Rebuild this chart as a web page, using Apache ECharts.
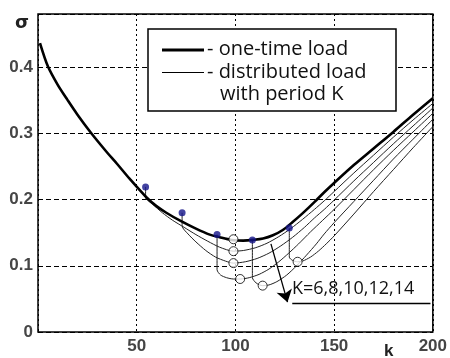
<!DOCTYPE html>
<html>
<head>
<meta charset="utf-8">
<script src="https://cdn.jsdelivr.net/npm/echarts@6/dist/echarts.min.js"></script>
<style>
  html, body { margin: 0; padding: 0; background: #fff; }
  #main { width: 450px; height: 358px; }
</style>
</head>
<body>
<div id="main"></div>
<script>
// axis ticks
const kTicks = [0, 50, 100, 150, 200];
const sigmaTicks = [0, 0.1, 0.2, 0.3, 0.4];

// one-time load (thick curve), [k, sigma]
const oneTime = [[1,0.436],[5,0.401],[10,0.373],[15,0.350],[20,0.328],[27,0.300],[35,0.271],[40,0.254],
  [46.5,0.231],[55,0.203],[60,0.190],[65,0.180],[72,0.168],[80,0.156],[87,0.147],[92,0.143],[98,0.139],
  [104,0.138],[109,0.139],[114,0.141],[119,0.146],[124,0.154],[129,0.166],[134,0.179],[140,0.196],
  [145,0.211],[150,0.225],[160,0.252],[170,0.277],[180,0.302],[190,0.328],[200,0.353]];

// onset of distributed load (blue dots)
const onsetK = [54.5, 73, 90.7, 108.6, 127.3];
const onsetSigma = [0.219, 0.180, 0.147, 0.139, 0.157];

// distributed load curves, K = 6, 8, 10, 12, 14 (first point = bottom of the drop)
const loadK6 = [[54.5,0.203],[58,0.193],[63,0.180],[68,0.169],[74,0.158],[80,0.147],[86,0.137],[92,0.128],
  [99,0.122],[104,0.123],[110,0.127],[116,0.134],[122,0.144],[128,0.156],[134,0.170],[140,0.185],
  [145,0.198],[150,0.212],[160,0.240],[170,0.267],[180,0.294],[190,0.320],[200,0.345]];
const loadK8 = [[73,0.160],[76,0.148],[80,0.136],[85,0.123],[90,0.113],[95,0.107],[99,0.104],[105,0.106],
  [111,0.111],[117,0.119],[123,0.130],[129,0.143],[135,0.158],[140,0.172],[145,0.185],[150,0.199],
  [160,0.228],[170,0.256],[180,0.284],[190,0.311],[200,0.338]];
const loadK10 = [[90.7,0.094],[92.5,0.086],[95.5,0.082],[99,0.080],[102.4,0.080],[107,0.082],[112,0.087],
  [117,0.095],[122,0.106],[127,0.119],[132,0.133],[138,0.151],[144,0.168],[150,0.185],[160,0.215],
  [170,0.245],[180,0.274],[190,0.302],[200,0.330]];
const loadK12 = [[108.6,0.082],[110.5,0.074],[112.3,0.071],[113.8,0.070],[117,0.071],[121,0.076],[126,0.086],
  [131,0.100],[136,0.116],[141,0.133],[145,0.148],[150,0.165],[160,0.197],[170,0.229],[180,0.261],
  [190,0.291],[200,0.321]];
const loadK14 = [[127.3,0.113],[129,0.108],[131.5,0.106],[134,0.107],[138,0.113],[142,0.122],[146,0.133],
  [150,0.145],[160,0.178],[170,0.212],[180,0.245],[190,0.278],[200,0.310]];
const distributed = [loadK6, loadK8, loadK10, loadK12, loadK14];

// minima (open circles)
const minK = [99, 99, 99, 102.4, 113.8, 131.5];
const minSigma = [0.140, 0.122, 0.104, 0.080, 0.070, 0.106];

// annotation arrow and underline of the K label
const arrowLine = [[118, 0.133], [126.4, 0.045]];
const underline = [[128.8, 0.0433], [198.8, 0.0433]];

let chart = echarts.init(document.getElementById('main'), null, {renderer: 'canvas'});

let series = [];
series.push({
  type: 'line', data: oneTime, smooth: 0.3, symbol: 'none',
  lineStyle: {color: '#000', width: 2.6}, z: 5
});
distributed.forEach(function(curve, i){
  // vertical drop from the onset dot, then the curve
  let data = [[onsetK[i], onsetSigma[i]]].concat(curve);
  series.push({
    type: 'line', data: data, smooth: 0.25, symbol: 'none',
    lineStyle: {color: '#222', width: 1}, z: 4
  });
});
series.push({
  type: 'scatter', data: onsetK.map((k, i) => [k, onsetSigma[i]]),
  symbolSize: 7, itemStyle: {color: '#14148a'}, z: 8
});
series.push({
  type: 'scatter', data: minK.map((k, i) => [k, minSigma[i]]),
  symbolSize: 9, itemStyle: {color: '#fff', borderColor: '#000', borderWidth: 1}, z: 8
});
series.push({
  type: 'lines', coordinateSystem: 'cartesian2d', z: 9,
  data: [
    {coords: arrowLine, symbol: ['none', 'arrow'], symbolSize: [7, 12]},
    {coords: underline, symbol: ['none', 'none']}
  ],
  lineStyle: {color: '#000', width: 1.3, opacity: 1}
});

let labelStyle = {color: '#454545', fontFamily: 'Liberation Sans', fontSize: 17, fontWeight: 'bold'};

let option = {
  animation: false,
  grid: {left: 38, right: 16, top: 14, bottom: 26, show: true, borderColor: '#000', borderWidth: 1.5},
  xAxis: {
    type: 'value', min: kTicks[0], max: kTicks[kTicks.length - 1], interval: 50,
    axisLine: {show: false}, axisTick: {show: false},
    axisLabel: Object.assign({margin: 6, showMinLabel: false}, labelStyle),
    splitLine: {show: true, lineStyle: {color: '#000', width: 1, type: [2, 3]}}
  },
  yAxis: {
    type: 'value', min: sigmaTicks[0], max: 0.48, interval: 0.1,
    axisLine: {show: false}, axisTick: {show: false},
    axisLabel: Object.assign({margin: 5, showMaxLabel: false,
      formatter: v => (v === 0 ? '0' : v.toFixed(1))}, labelStyle),
    splitLine: {show: true, lineStyle: {color: '#000', width: 1, type: [5, 3]}}
  },
  graphic: [
    {type: 'text', left: 15, top: 14, style: {text: 'σ', fill: '#222', font: 'bold 18px "DejaVu Sans"'}},
    {type: 'text', left: 384, top: 343, style: {text: 'k', fill: '#222', font: 'bold 17px "Liberation Sans"'}},
    {type: 'rect', shape: {x: 148, y: 29, width: 248, height: 82}, z: 20,
      style: {fill: '#fff', stroke: '#000', lineWidth: 1.5}},
    {type: 'line', shape: {x1: 162, y1: 50, x2: 204, y2: 50}, z: 21, style: {stroke: '#000', lineWidth: 3}},
    {type: 'line', shape: {x1: 162, y1: 72.5, x2: 204, y2: 72.5}, z: 21, style: {stroke: '#000', lineWidth: 1}},
    {type: 'text', x: 207, y: 49, z: 21, style: {text: '- one-time load', fill: '#111',
      font: '20px "Open Sans"', verticalAlign: 'middle'}},
    {type: 'text', x: 207, y: 72, z: 21, style: {text: '- distributed load', fill: '#111',
      font: '20px "Open Sans"', verticalAlign: 'middle'}},
    {type: 'text', x: 220, y: 94, z: 21, style: {text: 'with period K', fill: '#111',
      font: '20px "Open Sans"', verticalAlign: 'middle'}},
    {type: 'text', x: 292, y: 289, z: 21, style: {text: 'K=6,8,10,12,14', fill: '#111',
      font: '18px "Open Sans"', verticalAlign: 'middle'}}
  ],
  series: series
};
chart.setOption(option);
</script>
</body>
</html>
